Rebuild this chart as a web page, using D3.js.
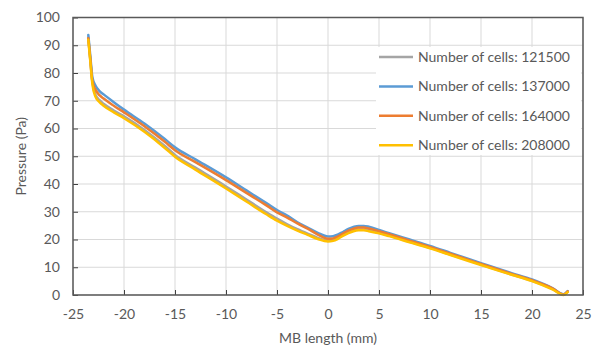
<!DOCTYPE html>
<html>
<head>
<meta charset="utf-8">
<script src="https://cdn.jsdelivr.net/npm/d3@7"></script>
<style>
  body { margin: 0; background: #fff; }
  text { font-family: Lato, "Liberation Sans", sans-serif; fill: #595959; }
</style>
</head>
<body>
<div class="chart"></div>
<script>
var width = 592;
var height = 353;

// MB length (mm) sample positions, shared by every series
var xs = [-23.5, -23.3, -23.1, -22.8, -22.4, -22, -21, -20, -18, -16, -15, -13, -10, -8, -6, -5, -4, -3, -2, -1,
          0, 0.5, 1, 1.5, 2, 2.5, 3, 3.5, 4, 5, 6, 8, 10, 12, 14, 15, 16, 18, 20, 22, 23.1, 23.5];

var cells121500 = [92.8, 84.5, 76.8, 72.2, 70.2, 68.9, 66.5, 64.4, 59.5, 53.7, 50.5, 45.9, 39.1, 34.4, 29.7, 27.5, 25.5, 23.7, 22.1, 20.6,
                   19.6, 19.8, 20.6, 21.7, 22.6, 23.3, 23.6, 23.6, 23.3, 22.4, 21.4, 19.2, 17.0, 14.6, 12.2, 11.0, 9.8, 7.4, 5.1, 2.2, 0.1, 1.2];
var cells137000 = [93.7, 86.0, 78.5, 75.5, 73.5, 72.3, 69.5, 66.8, 61.8, 56.2, 53.2, 48.9, 42.4, 37.7, 33.0, 30.6, 28.6, 26.2, 24.3, 22.4,
                   21.1, 21.2, 21.8, 22.8, 23.8, 24.5, 24.9, 24.9, 24.6, 23.4, 22.3, 20.0, 17.7, 15.2, 12.7, 11.5, 10.3, 7.9, 5.6, 2.5, 0.3, 1.4];
var cells164000 = [92.5, 85.0, 77.0, 74.0, 72.0, 70.8, 68.2, 65.8, 60.8, 55.2, 52.2, 47.9, 41.4, 36.8, 32.2, 29.8, 27.9, 25.8, 23.9, 21.8,
                   20.3, 20.4, 21.1, 22.2, 23.2, 23.9, 24.3, 24.3, 24.0, 23.0, 21.9, 19.6, 17.3, 14.9, 12.4, 11.2, 10.0, 7.6, 5.3, 2.4, 0.2, 1.3];
var cells208000 = [92.0, 84.0, 76.0, 71.5, 69.5, 68.2, 65.8, 63.7, 58.8, 53.0, 49.8, 45.2, 38.4, 33.7, 29.0, 26.8, 24.9, 23.2, 21.7, 20.2,
                   19.3, 19.5, 20.3, 21.4, 22.3, 23.0, 23.3, 23.3, 23.0, 22.2, 21.2, 19.0, 16.8, 14.4, 12.0, 10.8, 9.6, 7.3, 5.0, 2.0, 0.0, 1.0];

var seriesNames = ["Number of cells: 121500", "Number of cells: 137000", "Number of cells: 164000", "Number of cells: 208000"];
var seriesValues = [cells121500, cells137000, cells164000, cells208000];
var seriesColors = ["#A5A5A5", "#5B9BD5", "#ED7D31", "#FFC000"];

var xTicks = [-25, -20, -15, -10, -5, 0, 5, 10, 15, 20, 25];
var yTicks = [0, 10, 20, 30, 40, 50, 60, 70, 80, 90, 100];

var margin = {left: 73, right: 9, top: 17.5, bottom: 58};

var svg = d3.select(".chart").append("svg")
    .attr("width", width)
    .attr("height", height);

var x = d3.scaleLinear().domain([-25, 25]).range([margin.left, width - margin.right]);
var y = d3.scaleLinear().domain([0, 100]).range([height - margin.bottom, margin.top]);

// gridlines
svg.append("g")
  .selectAll("line.vgrid")
  .data(xTicks)
  .enter().append("line")
    .attr("x1", function(d) { return x(d); })
    .attr("x2", function(d) { return x(d); })
    .attr("y1", y(0))
    .attr("y2", y(100))
    .attr("stroke", "#d9d9d9")
    .attr("stroke-width", 1);

svg.append("g")
  .selectAll("line.hgrid")
  .data(yTicks)
  .enter().append("line")
    .attr("x1", x(-25))
    .attr("x2", x(25))
    .attr("y1", function(d) { return y(d); })
    .attr("y2", function(d) { return y(d); })
    .attr("stroke", "#d9d9d9")
    .attr("stroke-width", 1);

// series
var line = d3.line()
    .x(function(d) { return x(d[0]); })
    .y(function(d) { return y(d[1]); })
    .curve(d3.curveMonotoneX);

svg.append("g")
  .selectAll("path")
  .data(seriesValues)
  .enter().append("path")
    .attr("d", function(vals) { return line(xs.map(function(v, i) { return [v, vals[i]]; })); })
    .attr("fill", "none")
    .attr("stroke", function(d, i) { return seriesColors[i]; })
    .attr("stroke-width", 2.5)
    .attr("stroke-linejoin", "round")
    .attr("stroke-linecap", "round");

// axes (ticks point inward, Excel style)
var plain = function(d) { return String(d); };
var xAxis = svg.append("g")
    .attr("transform", "translate(0," + y(0) + ")")
    .call(d3.axisBottom(x).tickValues(xTicks).tickFormat(plain).tickSizeInner(-5).tickSizeOuter(0).tickPadding(14));
var yAxis = svg.append("g")
    .attr("transform", "translate(" + x(-25) + ",0)")
    .call(d3.axisLeft(y).tickValues(yTicks).tickFormat(plain).tickSizeInner(-5).tickSizeOuter(0).tickPadding(13));

[xAxis, yAxis].forEach(function(ax) {
  ax.selectAll(".domain").remove();
  ax.selectAll(".tick line").attr("stroke", "#404040").attr("stroke-width", 1);
  ax.selectAll(".tick text").style("font-size", "14px").attr("fill", "#595959");
});

// frame
svg.append("rect")
    .attr("x", x(-25))
    .attr("y", y(100))
    .attr("width", x(25) - x(-25))
    .attr("height", y(0) - y(100))
    .attr("fill", "none")
    .attr("stroke", "#595959")
    .attr("stroke-width", 1.5);

// axis titles
svg.append("text")
    .attr("x", (x(-25) + x(25)) / 2)
    .attr("y", 343)
    .attr("text-anchor", "middle")
    .style("font-size", "14px")
    .text("MB length (mm)");

svg.append("text")
    .attr("transform", "translate(26," + ((y(0) + y(100)) / 2) + ") rotate(-90)")
    .attr("text-anchor", "middle")
    .style("font-size", "14px")
    .text("Pressure (Pa)");

// legend
var legend = svg.append("g");
legend.append("rect")
    .attr("x", 376)
    .attr("y", 47)
    .attr("width", 205)
    .attr("height", 108)
    .attr("fill", "#fff");

var rows = legend.selectAll("g.row")
  .data(seriesNames)
  .enter().append("g")
    .attr("transform", function(d, i) { return "translate(379," + (57 + i * 29.4) + ")"; });

rows.append("line")
    .attr("x1", 0).attr("x2", 34)
    .attr("stroke", function(d, i) { return seriesColors[i]; })
    .attr("stroke-width", 2.5);

rows.append("text")
    .attr("x", 39)
    .attr("dy", "0.35em")
    .style("font-size", "14px")
    .attr("fill", "#404040")
    .text(function(d) { return d; });
</script>
</body>
</html>
